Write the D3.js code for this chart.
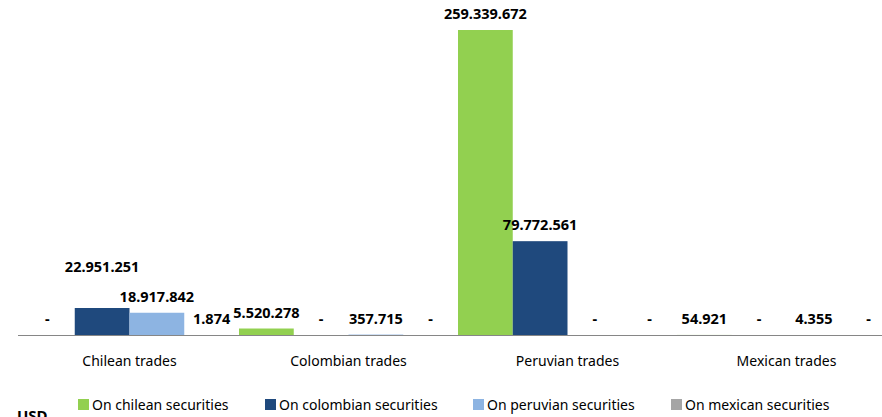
<!DOCTYPE html>
<html>
<head>
    <script src="https://d3js.org/d3.v7.min.js"></script>
    <style>
        body { margin: 0; background: #fff; }
        svg { display: block; overflow: hidden; }
    </style>
</head>
<body>
<script>
    // Categories (trading market) and series (issuer of the securities)
    var groups = ["Chilean trades", "Colombian trades", "Peruvian trades", "Mexican trades"];
    var series = ["On chilean securities", "On colombian securities", "On peruvian securities", "On mexican securities"];
    var colors = ["#92D050", "#1F497D", "#8DB4E2", "#A5A5A5"];

    // Values in USD, one array per series, in the order of groups
    var chileanSec = [0, 5520278, 259339672, 54921];
    var colombianSec = [22951251, 0, 79772561, 0];
    var peruvianSec = [18917842, 357715, 0, 4355];
    var mexicanSec = [1874, 0, 0, 0];

    var values = [chileanSec, colombianSec, peruvianSec, mexicanSec];

    var width = 882, height = 417;
    var baseY = 335, topY = 30;

    var svg = d3.select("body").append("svg")
        .attr("width", width)
        .attr("height", height);

    var x0 = d3.scaleBand().domain(groups).range([20, 896]).padding(0);
    var x1 = d3.scaleBand().domain(series).range([0, x0.bandwidth()]).padding(0);
    var maxVal = d3.max(values, function (s) { return d3.max(s); });
    var y = d3.scaleLinear().domain([0, maxVal]).range([baseY, topY]);

    // flat list of bars
    var bars = [];
    groups.forEach(function (g, gi) {
        series.forEach(function (s, si) {
            bars.push({ group: g, series: s, si: si, value: values[si][gi] });
        });
    });

    svg.append("g").selectAll("rect")
        .data(bars)
        .enter()
        .append("rect")
        .attr("x", function (d) { return x0(d.group) + x1(d.series); })
        .attr("y", function (d) { return y(d.value); })
        .attr("width", x1.bandwidth())
        .attr("height", function (d) { return baseY - y(d.value); })
        .style("fill", function (d) { return colors[d.si]; });

    // axis line
    svg.append("line")
        .attr("x1", 18).attr("x2", width)
        .attr("y1", baseY + 0.5).attr("y2", baseY + 0.5)
        .style("stroke", "#868686")
        .style("stroke-width", 1);

    // category labels
    svg.append("g").selectAll("text")
        .data(groups)
        .enter()
        .append("text")
        .attr("x", function (d) { return x0(d) + x0.bandwidth() / 2; })
        .attr("y", 366)
        .attr("text-anchor", "middle")
        .style("font-family", "'Noto Sans', sans-serif")
        .style("font-size", "14px")
        .style("fill", "#000")
        .text(function (d) { return d; });

    // value labels
    var fmt = function (v) {
        if (v === 0) return "-";
        return d3.format(",")(v).replace(/,/g, ".");
    };

    var labels = svg.append("g").selectAll("text")
        .data(bars)
        .enter()
        .append("text")
        .attr("x", function (d) { return x0(d.group) + x1(d.series) + x1.bandwidth() / 2; })
        .attr("y", function (d) { return y(d.value) - 11; })
        .attr("text-anchor", "middle")
        .style("font-family", "'Noto Sans', sans-serif")
        .style("font-weight", "bold")
        .style("font-size", "14.5px")
        .style("fill", "#000")
        .text(function (d) { return fmt(d.value); });

    // simple overlap avoidance, right to left, lift a label that hits one already placed
    var placed = [];
    var nodes = labels.nodes().slice().reverse();
    nodes.forEach(function (n) {
        var w = n.getComputedTextLength();
        var cx = +n.getAttribute("x");
        var by = +n.getAttribute("y");
        var moved = true;
        while (moved) {
            moved = false;
            placed.forEach(function (p) {
                var hOver = Math.min(cx + w / 2, p.cx + p.w / 2) - Math.max(cx - w / 2, p.cx - p.w / 2);
                if (hOver > 2 && Math.abs(by - p.by) < 14) {
                    by = p.by - 30;
                    moved = true;
                }
            });
        }
        n.setAttribute("y", by);
        placed.push({ cx: cx, w: w, by: by });
    });

    // legend
    var legendX = [78, 265, 473, 671];
    var legend = svg.append("g").selectAll("g")
        .data(series)
        .enter()
        .append("g")
        .attr("transform", function (d, i) { return "translate(" + legendX[i] + ",399)"; });

    legend.append("rect")
        .attr("width", 11).attr("height", 11)
        .style("fill", function (d, i) { return colors[i]; });

    legend.append("text")
        .attr("x", 14)
        .attr("y", 11)
        .style("font-family", "'Noto Sans', sans-serif")
        .style("font-size", "14px")
        .style("fill", "#000")
        .text(function (d) { return d; });

    svg.append("text")
        .attr("x", 17)
        .attr("y", 421)
        .style("font-family", "'Noto Sans', sans-serif")
        .style("font-weight", "bold")
        .style("font-size", "15px")
        .style("fill", "#000")
        .text("USD");
</script>
</body>
</html>
